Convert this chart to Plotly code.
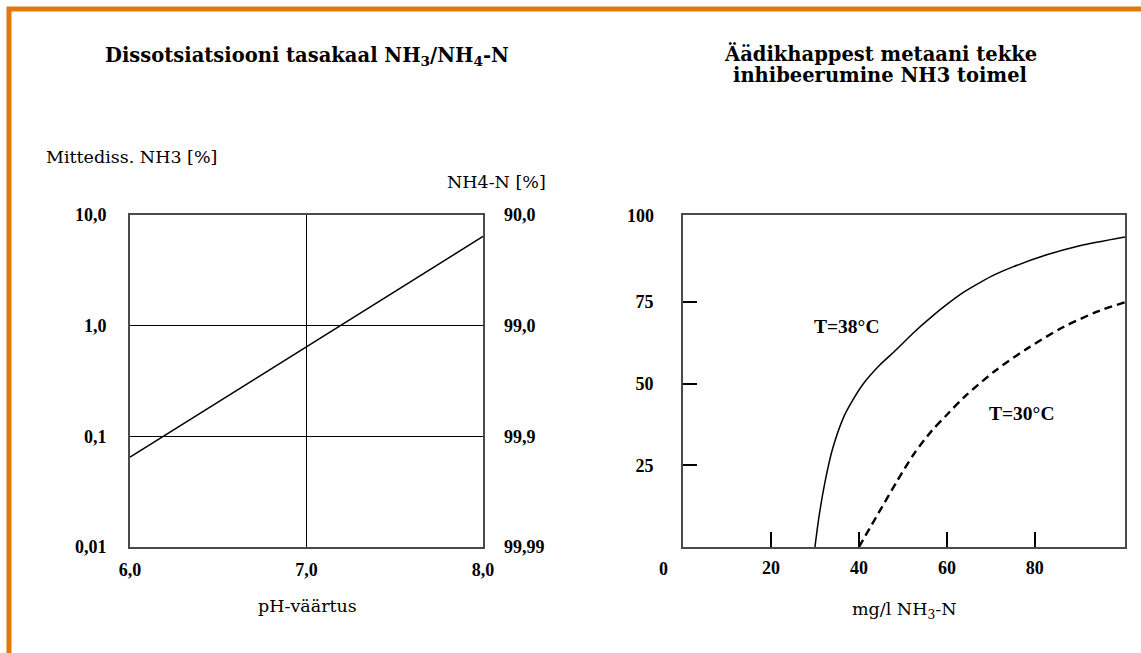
import plotly.graph_objects as go

# ---------------- data ----------------
# Left: dissociation equilibrium NH3 / NH4-N
ph_values = [6.0, 7.0, 8.0]
nh3_percent = [0.065, 0.65, 6.4]
left_y_ticks = [0.01, 0.1, 1, 10]
left_y_labels = ["0,01", "0,1", "1,0", "10,0"]
right_y_labels = ["99,99", "99,9", "99,0", "90,0"]
ph_ticks = [6, 7, 8]
ph_labels = ["6,0", "7,0", "8,0"]

# Right: inhibition of acetic acid -> methane by NH3
nh3n_38 = [30, 31.0, 32.3, 34.0, 36.6, 38.6, 41.0, 44.8, 48.0, 52.3, 56.5, 60, 64, 67.5, 71, 75, 82.7, 90.2, 100.5]
inhib_38 = [0, 10, 20, 30, 40, 45, 50, 55.8, 59.8, 65.5, 70.5, 74.3, 78.2, 81, 83.5, 85.8, 89.5, 92.3, 95]
nh3n_30 = [40, 44.5, 48.6, 52.5, 56.5, 60, 64, 71, 78.5, 86.4, 94, 100.5]
inhib_30 = [0, 10.5, 20, 28.5, 35.5, 40.5, 46, 54, 61, 67.3, 72, 75]
conc_ticks = [20, 40, 60, 80]
inhib_ticks = [25, 50, 75]

W, H = 1141, 653


def px(x):
    return x / W


def py(y):
    return 1 - y / H


SERIF = "Liberation Serif"
TITLE_FONT = dict(family="DejaVu Serif", size=19.5, color="black", weight="bold")
TICK_FONT = dict(family=SERIF, size=18, color="black", weight="bold")
LABEL_FONT = dict(family="DejaVu Serif", size=17.5, color="black")
NOTE_FONT = dict(family=SERIF, size=19.5, color="black", weight="bold")
BOX = "#4a4a4a"

fig = go.Figure()

fig.add_trace(go.Scatter(x=ph_values, y=nh3_percent, mode="lines",
                         line=dict(color="black", width=1.5),
                         xaxis="x", yaxis="y", showlegend=False, hoverinfo="skip"))
# same line on the secondary (NH4-N) axis so that it is rendered
fig.add_trace(go.Scatter(x=ph_values, y=nh3_percent, mode="lines",
                         line=dict(color="rgba(0,0,0,0)", width=0),
                         xaxis="x", yaxis="y2", showlegend=False, hoverinfo="skip"))

fig.add_trace(go.Scatter(x=nh3n_38, y=inhib_38, mode="lines",
                         line=dict(color="black", width=1.5, shape="spline", smoothing=0.8),
                         xaxis="x2", yaxis="y3", showlegend=False, hoverinfo="skip"))
fig.add_trace(go.Scatter(x=nh3n_30, y=inhib_30, mode="lines",
                         line=dict(color="black", width=2.4, dash="8px,5px", shape="spline", smoothing=0.8),
                         xaxis="x2", yaxis="y3", showlegend=False, hoverinfo="skip"))

fig.update_layout(
    width=W, height=H,
    margin=dict(l=0, r=0, t=0, b=0),
    paper_bgcolor="white", plot_bgcolor="white",
    showlegend=False,
    xaxis=dict(domain=[px(130), px(483)], range=[6, 8], tickvals=ph_ticks, ticktext=ph_labels,
               tickfont=TICK_FONT, showgrid=True, gridcolor="black", gridwidth=1,
               showline=True, mirror=True, linecolor=BOX, linewidth=2,
               ticks="", ticklabelstandoff=5, zeroline=False, anchor="y", automargin=False),
    yaxis=dict(domain=[py(547), py(215)], type="log", range=[-2, 1],
               tickvals=left_y_ticks, ticktext=left_y_labels, tickfont=TICK_FONT,
               showgrid=True, gridcolor="black", gridwidth=1,
               showline=True, mirror=True, linecolor=BOX, linewidth=2,
               ticks="", ticklabelstandoff=18, zeroline=False, anchor="x", automargin=False),
    yaxis2=dict(overlaying="y", side="right", type="log", range=[-2, 1],
                tickvals=left_y_ticks, ticktext=right_y_labels, tickfont=TICK_FONT,
                showgrid=False, ticks="", ticklabelstandoff=20, anchor="x",
                zeroline=False, automargin=False),
    xaxis2=dict(domain=[px(683), px(1125)], range=[0, 100.5], tickvals=conc_ticks,
                tickfont=TICK_FONT, showgrid=False, showline=True, mirror=True,
                linecolor=BOX, linewidth=2, ticks="inside", ticklen=15, tickwidth=1.5,
                tickcolor="black", ticklabelstandoff=3, zeroline=False, anchor="y3",
                automargin=False),
    yaxis3=dict(domain=[py(547), py(215)], range=[0, 101.7], tickvals=inhib_ticks,
                tickfont=TICK_FONT, showgrid=False, showline=True, mirror=True,
                linecolor=BOX, linewidth=2, ticks="inside", ticklen=14, tickwidth=1.5,
                tickcolor="black", ticklabelstandoff=24, zeroline=False, anchor="x2",
                automargin=False),
)

ann = []
ann.append(dict(text="Dissotsiatsiooni tasakaal NH<sub>3</sub>/NH<sub>4</sub>-N",
                x=px(307), y=py(57), font=TITLE_FONT))
ann.append(dict(text="Äädikhappest metaani tekke", x=px(880), y=py(54), font=TITLE_FONT))
ann.append(dict(text="inhibeerumine NH3 toimel", x=px(880), y=py(75), font=TITLE_FONT))
ann.append(dict(text="Mittediss. NH3 [%]", x=px(44), y=py(157), xanchor="left", font=LABEL_FONT))
ann.append(dict(text="NH4-N [%]", x=px(548), y=py(182), xanchor="right", font=LABEL_FONT))
ann.append(dict(text="pH-väärtus", x=px(307), y=py(606), font=LABEL_FONT))
ann.append(dict(text="mg/l NH<sub>3</sub>-N", x=px(904), y=py(610), font=LABEL_FONT))
ann.append(dict(text="100", x=px(656), y=py(216), xanchor="right", font=TICK_FONT))
ann.append(dict(text="0", x=px(663), y=py(569), font=TICK_FONT))
ann.append(dict(text="T=38°C", x=px(847), y=py(326), font=NOTE_FONT))
ann.append(dict(text="T=30°C", x=px(1022), y=py(413), font=NOTE_FONT))
for a in ann:
    a.update(xref="paper", yref="paper", showarrow=False)
    a.setdefault("xanchor", "center")
    a.setdefault("yanchor", "middle")
fig.update_layout(annotations=ann)

# orange frame
fig.add_shape(type="rect", xref="paper", yref="paper",
              x0=px(9), x1=px(1170), y0=py(690), y1=py(9),
              line=dict(color="#E5760F", width=5), fillcolor="rgba(0,0,0,0)", layer="above")

fig.write_html("out.html", config={"displayModeBar": False},
               post_script="document.body.style.margin='0px';")
